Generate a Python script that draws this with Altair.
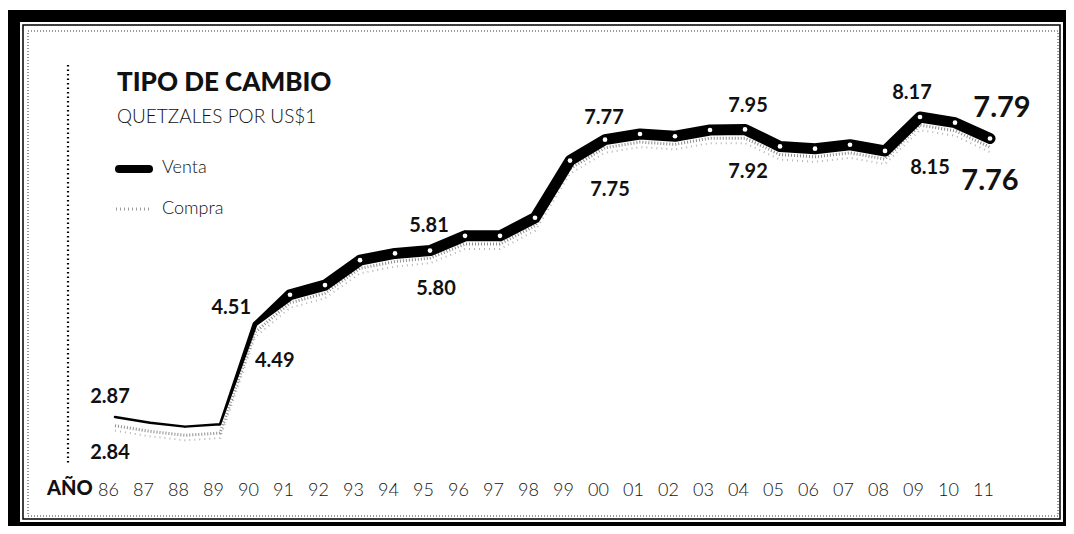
import altair as alt
import pandas as pd

# ---- data ----
years = list(range(1986, 2012))
venta = [2.87, 2.77, 2.70, 2.74, 4.51, 5.03, 5.20, 5.64, 5.76, 5.81, 6.07, 6.07, 6.39,
         7.40, 7.77, 7.87, 7.83, 7.94, 7.95, 7.65, 7.61, 7.68, 7.57, 8.17, 8.07, 7.79]
compra = [2.84, 2.74, 2.67, 2.71, 4.49, 5.01, 5.18, 5.62, 5.74, 5.80, 6.05, 6.05, 6.37,
          7.38, 7.75, 7.85, 7.81, 7.92, 7.92, 7.63, 7.59, 7.66, 7.55, 8.15, 8.05, 7.76]
tick_years = years

title_text = "TIPO DE CAMBIO"
subtitle_text = "QUETZALES POR US$1"
legend_venta = "Venta"
legend_compra = "Compra"
axis_word = "AÑO"

df = pd.DataFrame({"year": years, "venta": venta, "compra": compra})
one = pd.DataFrame({"k": [0]})

FONT = "Lato"

x_enc = alt.X(
    "year:Q",
    scale=alt.Scale(domain=[1986, 2011], range=[107, 982]),
    axis=alt.Axis(
        values=tick_years,
        labelExpr="substring(toString(datum.value), 2, 4)",
        title=None, domain=False, ticks=False, tickSize=0, grid=False,
        labelPadding=0, offset=-31, labelBaseline="alphabetic",
        labelFont=FONT, labelFontSize=18, labelFontWeight=300, labelColor="#111",
        labelOffset=-7, labelFlush=False, labelOverlap=False, zindex=2,
    ),
)
y_scale = alt.Scale(domain=[2.87, 8.17], range=[409, 109])


def yv(field):
    return alt.Y(f"{field}:Q", scale=y_scale, axis=None)


def box(x, x2, y, y2, **kw):
    return alt.Chart(one).mark_rect(**kw).encode(
        x=alt.value(x), x2=alt.value(x2), y=alt.value(y), y2=alt.value(y2))


# frame
frame_outer = box(0, 1058, 2, 518, color="black")
frame_inner = box(12, 1055, 14, 514, color="white")
frame_line = box(15, 1052, 17, 511, fill=None, stroke="black", strokeWidth=1.5)
frame_stip = box(20, 1050, 23, 508, fill=None, stroke="#999", strokeWidth=2,
                 strokeDash=[1, 2])

vline = alt.Chart(one).mark_rule(color="black", strokeWidth=2.2, strokeDash=[1.5, 3]).encode(
    x=alt.value(60), y=alt.value(57), y2=alt.value(455))

# compra (stippled, shown just under the venta band)
compra_line = alt.Chart(df).mark_line(
    color="#8c8c8c", strokeWidth=3, strokeDash=[1, 2], yOffset=7).encode(
    x=x_enc, y=yv("compra"))
compra_line2 = alt.Chart(df).mark_line(
    color="#b5b5b5", strokeWidth=2, strokeDash=[1, 4], yOffset=12).encode(
    x=x_enc, y=yv("compra"))

# venta (black trail thickening from 1990)
venta_trail = alt.Chart(df).transform_calculate(
    w="datum.year >= 1991 ? 11 : (datum.year == 1990 ? 5 : 2.5)"
).mark_trail(color="black").encode(
    x=x_enc, y=yv("venta"), size=alt.Size("w:Q", scale=None, legend=None))

dots = alt.Chart(df).transform_filter("datum.year >= 1991").mark_circle(
    color="white", size=22, opacity=1).encode(x=x_enc, y=yv("venta"))


def label(year, field, dx, dy, size=20, align="center"):
    return alt.Chart(df).transform_filter(f"datum.year == {year}").mark_text(
        font=FONT, fontWeight=700, fontSize=size, color="#111", align=align,
        baseline="middle", dx=dx, dy=dy).encode(
        x=x_enc, y=yv(field), text=alt.Text(f"{field}:Q", format=".2f"))


labels = [
    label(1986, "venta", -5, -20),
    label(1986, "compra", -5, 34),
    label(1990, "venta", -4, -16, align="right"),
    label(1990, "compra", 0, 36, align="left"),
    label(1995, "venta", -1, -25),
    label(1995, "compra", 6, 38),
    label(2000, "venta", -1, -22),
    label(2000, "compra", 5, 49),
    label(2004, "venta", 3, -23),
    label(2004, "compra", 3, 41),
    label(2009, "venta", -8, -24),
    label(2009, "compra", 10, 50),
    label(2011, "venta", 12, -31, size=29),
    label(2011, "compra", 0, 41, size=29),
]


def txt(text, x, y, size, weight, align="left", baseline="alphabetic"):
    return alt.Chart(one).mark_text(
        text=text, font=FONT, fontSize=size, fontWeight=weight, color="#111",
        align=align, baseline=baseline).encode(
        x=alt.value(x), y=alt.value(y))


title = txt(title_text, 109, 83, 26, 900)
subtitle = txt(subtitle_text, 109, 115, 19, 300)
leg_v_line = alt.Chart(one).mark_rule(color="black", strokeWidth=8, strokeCap="round").encode(
    x=alt.value(111), x2=alt.value(141), y=alt.value(161))
leg_v_txt = txt(legend_venta, 154, 165, 18, 300)
leg_c_line = alt.Chart(one).mark_rule(color="#999", strokeWidth=3, strokeDash=[1, 3]).encode(
    x=alt.value(108), x2=alt.value(143), y=alt.value(201))
leg_c_txt = txt(legend_compra, 154, 206, 18, 300)
ano = txt(axis_word, 39, 487, 20, 900)

chart = alt.layer(
    frame_outer, frame_inner, frame_line, frame_stip, vline,
    compra_line2, compra_line, venta_trail, dots, *labels,
    title, subtitle, leg_v_line, leg_v_txt, leg_c_line, leg_c_txt, ano,
).properties(
    width=1058, height=518, padding=0,
    autosize=alt.AutoSizeParams(type="none"),
    background="white",
).configure_view(stroke=None)

chart.save("out.html", embed_options={"renderer": "svg", "actions": False})
